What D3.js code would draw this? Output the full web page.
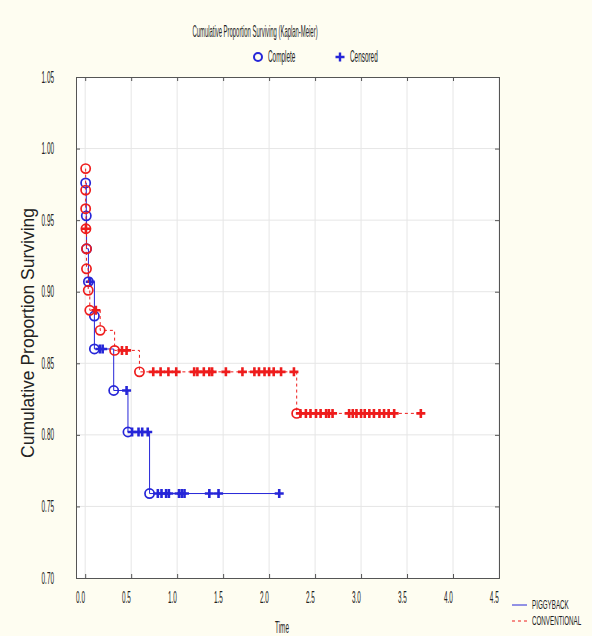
<!DOCTYPE html>
<html>
<head>
<meta charset="utf-8">
<script src="https://cdn.jsdelivr.net/npm/d3@7"></script>
<style>
  body { margin: 0; background: #fefdf1; }
  svg { display: block; }
  text { font-family: "Liberation Sans", Arial, sans-serif; fill: #222; }
</style>
</head>
<body>
<div id="chart"></div>
<script>
const width = 592;
const height = 636;

// axis ticks
const timeTicks = [0, 0.5, 1, 1.5, 2, 2.5, 3, 3.5, 4, 4.5];
const survTicks = [0.70, 0.75, 0.80, 0.85, 0.90, 0.95, 1.00, 1.05];

// PIGGYBACK: complete (event) times and survival after each event
const piggyEventTime = [0.005, 0.012, 0.015, 0.035, 0.10, 0.10, 0.31, 0.465, 0.70];
const piggyEventSurv = [0.976, 0.953, 0.930, 0.907, 0.883, 0.860, 0.831, 0.802, 0.759];
// PIGGYBACK: censored times and survival at that time
const piggyCensTime = [0.055, 0.16, 0.19, 0.45, 0.51, 0.58, 0.62, 0.68,
  0.79, 0.83, 0.88, 0.91, 1.02, 1.05, 1.08, 1.35, 1.45, 2.11];
const piggyCensSurv = [0.907, 0.860, 0.860, 0.831, 0.802, 0.802, 0.802, 0.802,
  0.759, 0.759, 0.759, 0.759, 0.759, 0.759, 0.759, 0.759, 0.759, 0.759];

// CONVENTIONAL
const convEventTime = [0.005, 0.005, 0.005, 0.008, 0.014, 0.014, 0.033, 0.05, 0.163, 0.32, 0.59, 2.30];
const convEventSurv = [0.986, 0.971, 0.958, 0.944, 0.930, 0.916, 0.901, 0.887, 0.873, 0.859, 0.844, 0.815];
const convCensTime = [0.008, 0.116, 0.40, 0.45,
  0.74, 0.82, 0.905, 0.99, 1.185, 1.22, 1.29, 1.35, 1.38, 1.53, 1.71, 1.84, 1.89, 1.95, 2.0, 2.05, 2.13, 2.27,
  2.34, 2.40, 2.45, 2.51, 2.56, 2.62, 2.65, 2.69, 2.87, 2.91, 2.95, 3.0, 3.04, 3.09, 3.14, 3.2, 3.25, 3.3, 3.36, 3.65];
const convCensSurv = [0.944, 0.887, 0.859, 0.859,
  0.844, 0.844, 0.844, 0.844, 0.844, 0.844, 0.844, 0.844, 0.844, 0.844, 0.844, 0.844, 0.844, 0.844, 0.844, 0.844, 0.844, 0.844,
  0.815, 0.815, 0.815, 0.815, 0.815, 0.815, 0.815, 0.815, 0.815, 0.815, 0.815, 0.815, 0.815, 0.815, 0.815, 0.815, 0.815, 0.815, 0.815, 0.815];

const blue = "#2626d8";
const red = "#ee1c1c";

const svg = d3.select("#chart").append("svg")
   .attr("width", width)
   .attr("height", height);

const x = d3.scaleLinear().domain([-0.1, 4.5]).range([76, 499]);
const y = d3.scaleLinear().domain([0.70, 1.05]).range([578, 77]);

// condensed text helper
function label(g, px, py, txt, size, sx, anchor) {
   return g.append("text")
      .attr("transform", `translate(${px},${py}) scale(${sx},1)`)
      .attr("font-size", size)
      .attr("text-anchor", anchor || "start")
      .text(txt);
}

// plot background
svg.append("rect")
   .attr("x", x.range()[0]).attr("y", y.range()[1])
   .attr("width", x.range()[1] - x.range()[0])
   .attr("height", y.range()[0] - y.range()[1])
   .style("fill", "#fff");

// grid
svg.append("g").selectAll("line.vg")
   .data(timeTicks)
   .join("line")
   .attr("x1", d => x(d)).attr("x2", d => x(d))
   .attr("y1", y.range()[0]).attr("y2", y.range()[1])
   .style("stroke", "#e6e6e6");
svg.append("g").selectAll("line.hg")
   .data(survTicks.slice(1, -1))
   .join("line")
   .attr("x1", x.range()[0]).attr("x2", x.range()[1])
   .attr("y1", d => y(d)).attr("y2", d => y(d))
   .style("stroke", "#e6e6e6");

// axes (ticks inside)
const xAxis = svg.append("g")
   .attr("transform", `translate(0,${y.range()[0]})`)
   .call(d3.axisBottom(x).tickValues(timeTicks).tickSize(-4).tickPadding(14).tickFormat(d3.format(".1f")));
xAxis.selectAll("text")
   .attr("font-size", 16)
   .attr("x", -13)
   .attr("transform", "scale(0.4,1)");

const yAxis = svg.append("g")
   .attr("transform", `translate(${x.range()[0]},0)`)
   .call(d3.axisLeft(y).tickValues(survTicks).tickSize(-4).tickFormat(d3.format(".2f")));
yAxis.selectAll("text")
   .attr("font-size", 16)
   .attr("x", -55)
   .attr("transform", "scale(0.4,1)");

svg.append("g")
   .attr("transform", `translate(0,${y.range()[1]})`)
   .call(d3.axisTop(x).tickValues(timeTicks).tickSize(-4).tickFormat(""));
svg.append("g")
   .attr("transform", `translate(${x.range()[1]},0)`)
   .call(d3.axisRight(y).tickValues(survTicks).tickSize(-4).tickFormat(""));

svg.selectAll(".domain, .tick line").style("stroke", "#555");
svg.selectAll(".tick text").style("fill", "#222").style("font-family", '"Liberation Sans", Arial, sans-serif');

// curves (step line starts at the first event, as in the original)
function buildSeries(et, es, ct, cs) {
   const events = et.map((t, i) => ({t: t, s: es[i], type: "c"}));
   const cens = ct.map((t, i) => ({t: t, s: cs[i], type: "+"}));
   const pts = events.concat(cens)
      .sort((a, b) => a.t - b.t || b.s - a.s);
   return {pts: pts, events: events, cens: cens};
}

const line = d3.line()
   .x(d => x(d.t))
   .y(d => y(d.s))
   .curve(d3.curveStepAfter);

const series = [
   {name: "PIGGYBACK", color: blue, dash: null,
    data: buildSeries(piggyEventTime, piggyEventSurv, piggyCensTime, piggyCensSurv)},
   {name: "CONVENTIONAL", color: red, dash: "3,3",
    data: buildSeries(convEventTime, convEventSurv, convCensTime, convCensSurv)}
];

const plusPath = "M-4.5,0H4.5M0,-4.5V4.5";

series.forEach(sr => {
   const g = svg.append("g");
   g.append("path")
      .datum(sr.data.pts)
      .attr("d", line)
      .style("fill", "none")
      .style("stroke", sr.color)
      .style("stroke-width", 1)
      .style("stroke-dasharray", sr.dash);
   g.selectAll("circle")
      .data(sr.data.events)
      .join("circle")
      .attr("cx", d => x(d.t))
      .attr("cy", d => y(d.s))
      .attr("r", 4.6)
      .style("fill", "none")
      .style("stroke", sr.color)
      .style("stroke-width", 1.7);
   g.selectAll("path.plus")
      .data(sr.data.cens)
      .join("path")
      .attr("class", "plus")
      .attr("transform", d => `translate(${x(d.t)},${y(d.s)})`)
      .attr("d", plusPath)
      .style("stroke", sr.color)
      .style("stroke-width", 2.6);
});

// titles
label(svg, 255, 37, "Cumulative Proportion Surviving (Kaplan-Meier)", 16, 0.37, "middle");

svg.append("circle")
   .attr("cx", 258).attr("cy", 57).attr("r", 4)
   .style("fill", "none").style("stroke", blue).style("stroke-width", 2);
label(svg, 268, 62, "Complete", 16, 0.4);
svg.append("path")
   .attr("transform", "translate(340,57)")
   .attr("d", plusPath)
   .style("stroke", blue).style("stroke-width", 2.4);
label(svg, 350, 62, "Censored", 16, 0.4);

label(svg, 282, 633, "Time", 16, 0.4, "middle");

svg.append("text")
   .attr("transform", "translate(34,333) rotate(-90)")
   .attr("text-anchor", "middle")
   .attr("font-size", 17.5)
   .text("Cumulative Proportion Surviving");

// series legend
series.forEach((sr, i) => {
   const ly = 605 + i * 16;
   svg.append("line")
      .attr("x1", 512).attr("x2", 527)
      .attr("y1", ly).attr("y2", ly)
      .style("stroke", sr.color)
      .style("stroke-width", 1)
      .style("stroke-dasharray", sr.dash);
   label(svg, 532, ly + 4, sr.name, 13, 0.48);
});
</script>
</body>
</html>
